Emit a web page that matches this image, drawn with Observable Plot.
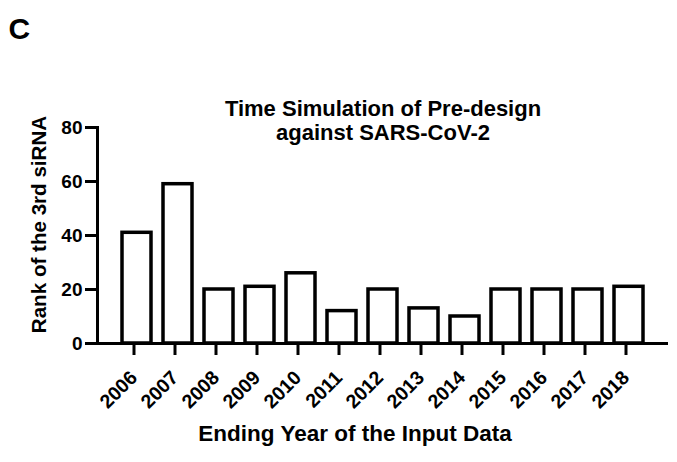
<!DOCTYPE html>
<html>
<head>
<meta charset="utf-8">
<script src="https://cdn.jsdelivr.net/npm/d3@7"></script>
<script src="https://cdn.jsdelivr.net/npm/@observablehq/plot@0.6"></script>
<style>
  html, body { margin: 0; padding: 0; background: #fff; }
  #chart { position: relative; width: 677px; height: 462px; }
  #chart svg { font-family: "Liberation Sans", Arial, sans-serif; }
</style>
</head>
<body>
<div id="chart"></div>
<script>
// ---- data ----
const years = ["2006","2007","2008","2009","2010","2011","2012","2013","2014","2015","2016","2017","2018"];
const ranks = [41, 59, 20, 21, 26, 12, 20, 13, 10, 20, 20, 20, 21];
const yTicks = [0, 20, 40, 60, 80];
const titleLines = ["Time Simulation of Pre-design", "against SARS-CoV-2"];
const panelLabel = "C";
const xTitle = "Ending Year of the Input Data";
const yTitle = "Rank of the 3rd siRNA";

const data = years.map((y, i) => ({year: y, rank: ranks[i]}));

const W = 677, H = 462;
const chart = Plot.plot({
  width: W,
  height: H,
  marginLeft: 97,
  marginRight: 9,
  marginTop: 127,
  marginBottom: 119,
  style: {fontFamily: "Liberation Sans, Arial, sans-serif", color: "#000", background: "#fff"},
  x: {type: "band", domain: years, paddingInner: 0.29, paddingOuter: 0.466, label: null},
  y: {domain: [0, 80], label: null},
  marks: [
    Plot.barY(data, {x: "year", y: "rank", fill: "white", stroke: "black", strokeWidth: 3.5}),
    Plot.frame({anchor: "left", stroke: "black", strokeWidth: 3}),
    Plot.ruleY([0], {stroke: "black", strokeWidth: 3}),
    Plot.axisY({ticks: yTicks, tickSize: 12, tickPadding: 3, fontSize: 19, fontWeight: "bold", strokeWidth: 3, label: null}),
    Plot.axisX({tickSize: 12, tickPadding: 19, dx: -3, tickRotate: -45, fontSize: 19.5, fontWeight: "bold", strokeWidth: 3, label: null}),
    // titles
    Plot.text([titleLines.join("\n")], {frameAnchor: "top", dy: 12, fontSize: 22, fontWeight: "bold", lineHeight: 1.05, lineAnchor: "bottom"}),
    Plot.text([xTitle], {frameAnchor: "bottom", dx: -28, dy: 97, fontSize: 22.5, fontWeight: "bold", lineAnchor: "bottom"}),
    Plot.text([yTitle], {frameAnchor: "left", dx: -52, dy: -11, rotate: -90, textAnchor: "middle", fontSize: 20.6, fontWeight: "bold", lineAnchor: "bottom"}),
    Plot.text([panelLabel], {frameAnchor: "top-left", dx: -89, dy: -89, fontSize: 30, fontWeight: "bold", textAnchor: "start", lineAnchor: "bottom"})
  ]
});
document.getElementById("chart").appendChild(chart);
</script>
</body>
</html>
